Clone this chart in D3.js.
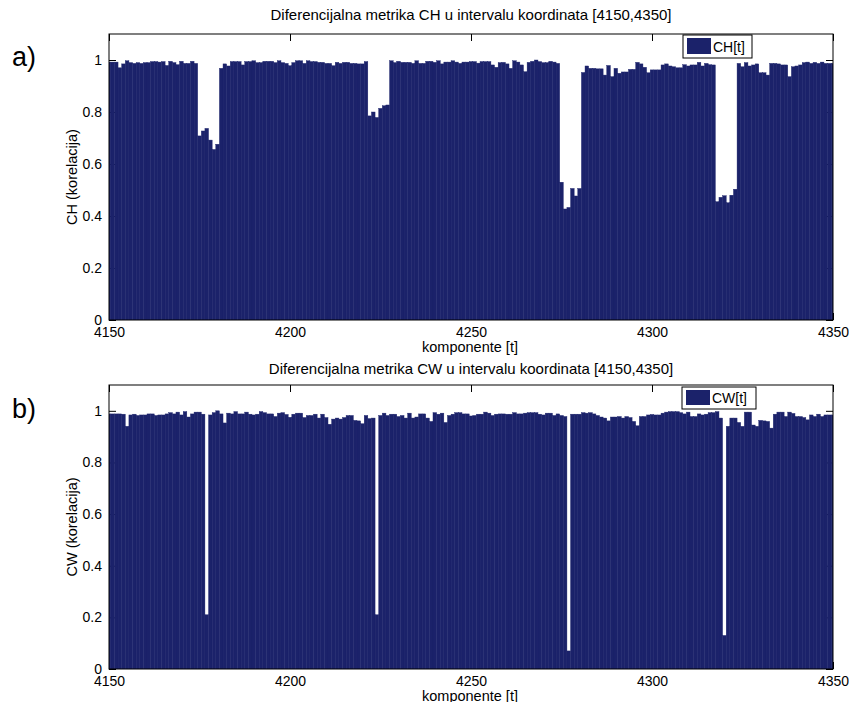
<!DOCTYPE html>
<html><head><meta charset="utf-8">
<script src="https://cdn.jsdelivr.net/npm/d3@7"></script>
<style>
body{margin:0;background:#fff}
svg{display:block;font-family:"Liberation Sans",Arial,Helvetica,sans-serif}
</style>
</head><body>
<svg id="chart" width="849" height="702"></svg>
<script>
// ---- data ----
const tStart = 4150, tEnd = 4350;
const chValues = [
 0.992,0.992,0.992,0.970,0.985,0.997,0.990,0.987,0.990,0.987,
 0.990,0.990,0.994,0.994,0.992,0.994,0.979,0.995,0.990,0.982,
 0.995,0.987,0.987,0.995,0.987,0.708,0.727,0.737,0.692,0.656,
 0.676,0.968,0.985,0.977,0.994,0.994,0.994,0.981,0.994,0.994,
 0.997,0.990,0.990,0.995,0.995,0.995,0.990,0.997,0.990,0.987,
 0.978,0.990,0.997,0.997,0.987,0.997,0.994,0.994,0.991,0.991,
 0.987,0.987,0.978,0.991,0.987,0.991,0.991,0.987,0.987,0.985,
 0.985,0.994,0.785,0.800,0.779,0.814,0.824,0.827,0.997,0.990,
 0.995,0.991,0.991,0.991,0.987,0.997,0.987,0.987,0.995,0.995,
 0.991,0.997,0.985,0.992,0.992,0.997,0.992,0.987,0.992,0.992,
 0.994,0.994,0.988,0.994,0.994,0.994,0.981,0.972,0.990,0.991,
 0.985,0.968,0.997,0.992,0.981,0.955,0.991,0.995,1.000,0.994,
 0.990,0.990,0.995,0.992,0.987,0.530,0.427,0.433,0.506,0.477,
 0.506,0.952,0.977,0.968,0.968,0.966,0.966,0.942,0.979,0.936,
 0.968,0.949,0.954,0.954,0.964,0.964,0.991,0.985,0.972,0.951,
 0.962,0.962,0.962,0.981,0.985,0.977,0.974,0.970,0.970,0.982,
 0.977,0.981,0.981,0.991,0.977,0.987,0.982,0.981,0.455,0.472,
 0.478,0.451,0.480,0.503,0.987,0.974,0.990,0.977,0.981,0.985,
 0.951,0.951,0.942,0.987,0.987,0.985,0.981,0.981,0.936,0.974,
 0.977,0.981,0.990,0.992,0.987,0.991,0.987,0.992,0.987,0.987,
 0.987
];
const cwValues = [
 0.988,0.988,0.988,0.988,0.987,0.940,0.984,0.987,0.982,0.984,
 0.984,0.988,0.988,0.982,0.984,0.984,0.988,0.993,0.988,0.995,
 0.984,0.997,0.976,0.988,0.995,0.995,0.987,0.210,0.984,0.993,
 1.000,0.988,0.953,0.991,0.988,0.997,0.988,0.988,0.995,0.987,
 0.984,0.987,0.997,0.993,0.988,0.988,0.978,0.991,0.993,0.986,
 0.975,0.987,0.991,0.991,0.974,0.982,0.982,0.987,0.972,0.987,
 0.974,0.948,0.968,0.972,0.968,0.974,0.982,0.982,0.963,0.961,
 0.950,0.982,0.970,0.972,0.210,0.982,0.991,0.982,0.987,0.987,
 0.978,0.982,0.972,0.991,0.972,0.976,0.988,0.988,0.972,0.959,
 0.993,0.987,0.991,0.955,0.982,0.987,0.993,0.993,0.988,0.988,
 0.980,0.982,0.987,0.987,0.995,0.991,0.982,0.987,0.988,0.988,
 0.987,0.987,0.993,0.988,0.988,0.991,0.993,0.993,0.993,0.987,
 0.984,0.991,0.991,0.982,0.988,0.982,0.978,0.070,0.987,0.987,
 0.987,0.993,0.991,0.993,0.988,0.982,0.976,0.972,0.961,0.976,
 0.976,0.978,0.972,0.978,0.974,0.959,0.942,0.978,0.978,0.984,
 0.986,0.984,0.984,0.991,0.995,0.997,0.997,0.997,0.993,0.988,
 0.995,0.978,0.978,0.988,0.984,0.987,0.993,0.993,0.997,0.972,
 0.130,0.940,0.972,0.972,0.955,0.940,0.995,0.995,0.945,0.940,
 0.963,0.961,0.959,0.933,0.987,0.995,0.995,0.978,0.995,0.990,
 0.978,0.978,0.974,0.965,0.984,0.978,0.987,0.978,0.984,0.984,
 0.984
];
const xTicks = [4150, 4200, 4250, 4300, 4350];
const yTicks = [0, 0.2, 0.4, 0.6, 0.8, 1];
const titles = ["Diferencijalna metrika CH u intervalu koordinata [4150,4350]",
                "Diferencijalna metrika CW u intervalu koordinata [4150,4350]"];
const yLabels = ["CH (korelacija)", "CW (korelacija)"];
const legendLabels = ["CH[t]", "CW[t]"];
const panelLetters = ["a)", "b)"];
const xLabel = "komponente [t]";

// ---- layout ----
const navy = "#1b226a";
const left = 109, right = 833;
const layout = [
  {top: 34, bottom: 320, titleY: 20, xlabY: 352, letterY: 66, leg: {x: 683, y: 35, w: 69, h: 23}},
  {top: 385, bottom: 669, titleY: 374, xlabY: 701, letterY: 418, leg: {x: 682, y: 387, w: 74, h: 22}}
];
const seriesList = [chValues, cwValues];

const svg = d3.select("#chart");
const x = d3.scaleLinear().domain([tStart, tEnd]).range([left, right]);
const comps = d3.range(tStart, tEnd + 1);

layout.forEach((L, p) => {
  const vals = seriesList[p];
  const y = d3.scaleLinear().domain([0, 1.1]).range([L.bottom, L.top]);
  const g = svg.append("g");

  // ticks (under bars)
  const fmt = d => String(+(+d).toFixed(1));
  const ax = [
    d3.axisBottom(x).tickValues(xTicks).tickSize(-7).tickPadding(7.5).tickFormat(d3.format("d")),
    d3.axisTop(x).tickValues(xTicks).tickSize(-7).tickFormat(""),
    d3.axisLeft(y).tickValues(yTicks).tickSize(-7).tickPadding(7).tickFormat(fmt),
    d3.axisRight(y).tickValues(yTicks).tickSize(-7).tickFormat("")
  ];
  const trans = [`translate(0,${L.bottom})`, `translate(0,${L.top})`, `translate(${left},0)`, `translate(${right},0)`];
  ax.forEach((a, i) => {
    const ag = g.append("g").attr("transform", trans[i]).call(a);
    ag.select(".domain").remove();
    ag.selectAll("line").attr("stroke", "#000").attr("stroke-width", 1);
    ag.selectAll("text").attr("font-size", 14).attr("fill", "#000")
      .attr("font-family", '"Liberation Sans",Arial,sans-serif');
  });

  // clip
  const cid = "clip" + p;
  svg.append("clipPath").attr("id", cid).append("rect")
    .attr("x", left).attr("y", L.top).attr("width", right - left).attr("height", L.bottom - L.top);

  // bars
  g.append("g").attr("clip-path", `url(#${cid})`)
    .selectAll("rect").data(comps).join("rect")
    .attr("x", t => x(t - 0.5))
    .attr("width", t => x(t + 0.5) - x(t - 0.5))
    .attr("y", (t, i) => y(vals[i]))
    .attr("height", (t, i) => y(0) - y(vals[i]))
    .attr("fill", navy)
    .attr("stroke", navy).attr("stroke-width", 0.4);

  // box
  g.append("rect").attr("x", left).attr("y", L.top).attr("width", right - left).attr("height", L.bottom - L.top)
    .attr("fill", "none").attr("stroke", "#000").attr("stroke-width", 1);

  // title
  g.append("text").attr("x", (left + right) / 2).attr("y", L.titleY).attr("text-anchor", "middle")
    .attr("font-size", 15).text(titles[p]);
  // x label
  g.append("text").attr("x", (left + right) / 2 - 1).attr("y", L.xlabY).attr("text-anchor", "middle")
    .attr("font-size", 14.5).text(xLabel);
  // y label
  g.append("text").attr("transform", `translate(77,${(L.top + L.bottom) / 2}) rotate(-90)`)
    .attr("text-anchor", "middle").attr("font-size", 14.5).text(yLabels[p]);
  // panel letter
  g.append("text").attr("x", 12).attr("y", L.letterY).attr("font-size", 27).text(panelLetters[p]);

  // legend
  const lg = g.append("g");
  lg.append("rect").attr("x", L.leg.x).attr("y", L.leg.y).attr("width", L.leg.w).attr("height", L.leg.h)
    .attr("fill", "#fff").attr("stroke", "#000").attr("stroke-width", 1);
  lg.append("rect").attr("x", L.leg.x + 4).attr("y", L.leg.y + 3).attr("width", 24).attr("height", L.leg.h - 7)
    .attr("fill", navy);
  lg.append("text").attr("x", L.leg.x + 30).attr("y", L.leg.y + L.leg.h / 2 + 5)
    .attr("font-size", 14).text(legendLabels[p]);
});
</script>
</body></html>
